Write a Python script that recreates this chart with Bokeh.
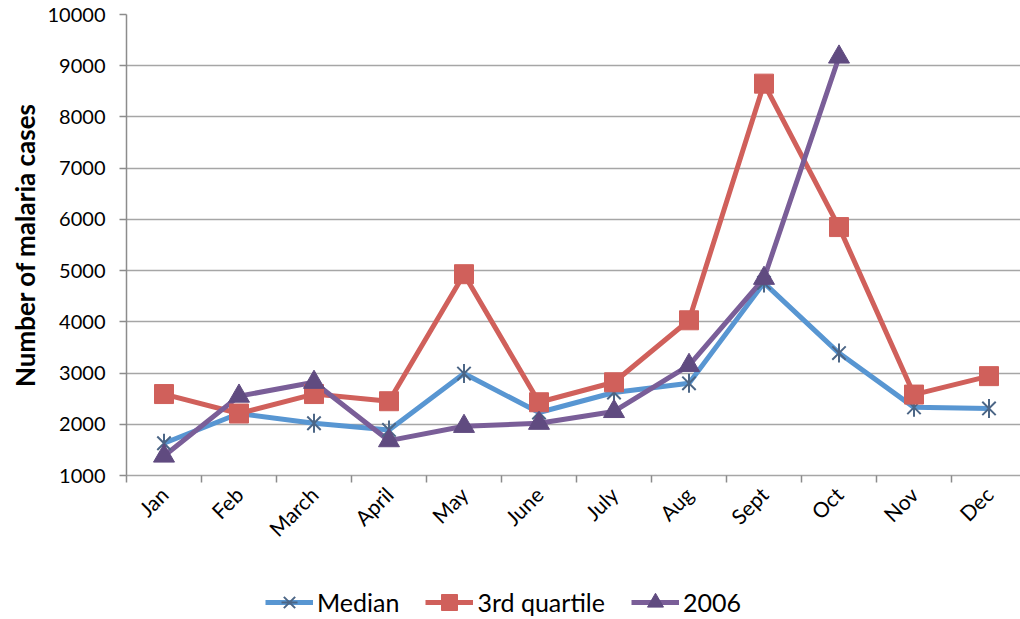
import math
from bokeh.plotting import figure
from bokeh.layouts import column
from bokeh.models import (Range1d, FixedTicker, Legend, LegendItem, ColumnDataSource)
from bokeh.embed import file_html
from bokeh.resources import INLINE

months = ["Jan", "Feb", "March", "April", "May", "June", "July", "Aug", "Sept", "Oct", "Nov", "Dec"]
median = [1630, 2210, 2020, 1890, 2990, 2230, 2620, 2800, 4760, 3390, 2330, 2310]
third_quartile = [2590, 2210, 2590, 2450, 4930, 2430, 2820, 4030, 8650, 5850, 2580, 2940]
y2006 = [1380, 2550, 2820, 1680, 1960, 2020, 2250, 3150, 4850, 9170]
y_ticks = [1000, 2000, 3000, 4000, 5000, 6000, 7000, 8000, 9000, 10000]

BLUE = "#5896d2"
BLUE_MK = "#4c6686"
RED = "#d0605b"
PURPLE = "#7a5e98"
PURPLE_MK = "#604b80"
FONT = "Lato"

idx = list(range(len(months)))
src_med = ColumnDataSource(dict(x=idx, y=median))
src_q3 = ColumnDataSource(dict(x=idx, y=third_quartile))
src_06 = ColumnDataSource(dict(x=idx[:len(y2006)], y=y2006))


def add_series(fig, visible=True):
    l_med = fig.line("x", "y", source=src_med, color=BLUE, line_width=5, visible=visible)
    l_q3 = fig.line("x", "y", source=src_q3, color=RED, line_width=5, visible=visible)
    l_06 = fig.line("x", "y", source=src_06, color=PURPLE, line_width=5, visible=visible)
    m_med1 = fig.scatter("x", "y", source=src_med, marker="x", size=19, line_color=BLUE_MK,
                         line_width=2, visible=visible)
    m_med2 = fig.scatter("x", "y", source=src_med, marker="dash", angle=math.pi / 2, size=19,
                         line_color=BLUE_MK, line_width=2, visible=visible)
    m_q3 = fig.scatter("x", "y", source=src_q3, marker="square", size=19, fill_color=RED,
                       line_color=RED, visible=visible)
    m_06 = fig.scatter("x", "y", source=src_06, marker="triangle", size=21, fill_color=PURPLE_MK,
                       line_color=PURPLE_MK, visible=visible)
    return [[l_med, m_med1, m_med2], [l_q3, m_q3], [l_06, m_06]]


p = figure(width=1020, height=560, output_backend="svg", toolbar_location=None,
           x_range=Range1d(-0.5, 11.42), y_range=Range1d(1000, 10000),
           min_border_left=126, min_border_right=0, min_border_top=14, min_border_bottom=85)
p.outline_line_color = None
p.background_fill_color = "white"
add_series(p)

# axes
p.yaxis.ticker = FixedTicker(ticks=y_ticks)
p.yaxis.axis_label = "Number of malaria cases"
p.yaxis.axis_label_text_font = FONT
p.yaxis.axis_label_text_font_style = "bold"
p.yaxis.axis_label_text_font_size = "26px"
p.yaxis.axis_label_text_color = "black"
p.yaxis.axis_label_standoff = 4
p.yaxis.major_label_text_font = FONT
p.yaxis.major_label_text_font_size = "20px"
p.yaxis.major_label_text_color = "black"
p.yaxis.major_label_standoff = 14
p.yaxis.major_tick_out = 7
p.yaxis.major_tick_in = 0
p.yaxis.minor_tick_out = 0
p.yaxis.minor_tick_in = 0
p.yaxis.axis_line_color = "#8c8c8c"
p.yaxis.axis_line_width = 1.5
p.yaxis.major_tick_line_color = "#8c8c8c"
p.yaxis.major_tick_line_width = 1.5

p.xaxis.ticker = FixedTicker(ticks=idx, minor_ticks=[i - 0.5 for i in range(len(months) + 1)])
p.xaxis.major_label_overrides = {i: m for i, m in enumerate(months)}
p.xaxis.major_label_orientation = math.pi / 4
p.xaxis.major_label_text_font = FONT
p.xaxis.major_label_text_font_size = "21px"
p.xaxis.major_label_text_color = "black"
p.xaxis.major_label_standoff = 8
p.xaxis.major_tick_out = 0
p.xaxis.major_tick_in = 0
p.xaxis.minor_tick_out = 7
p.xaxis.minor_tick_in = 0
p.xaxis.minor_tick_line_color = "#8c8c8c"
p.xaxis.minor_tick_line_width = 1.5
p.xaxis.axis_line_color = "#a6a6a6"
p.xaxis.axis_line_width = 1.5

p.xgrid.grid_line_color = None
p.ygrid.grid_line_color = "#a6a6a6"
p.ygrid.grid_line_width = 1.5

# legend strip below the chart (renderers hidden, used only for legend glyphs)
q = figure(width=1020, height=59, output_backend="svg", toolbar_location=None,
           x_axis_type=None, y_axis_type=None, x_range=Range1d(-0.5, 11.42),
           y_range=Range1d(1000, 10000), min_border=0)
q.outline_line_color = None
q.background_fill_color = "white"
groups = add_series(q, visible=False)

legend = Legend(items=[
    LegendItem(label="Median", renderers=groups[0]),
    LegendItem(label="3rd quartile", renderers=groups[1]),
    LegendItem(label="2006", renderers=groups[2]),
], orientation="horizontal", location=(139, -3))
legend.label_text_font = FONT
legend.label_text_font_size = "25px"
legend.label_text_color = "black"
legend.glyph_width = 48
legend.glyph_height = 40
legend.spacing = 26
legend.padding = 0
legend.margin = 0
legend.label_standoff = 4
legend.border_line_color = None
legend.background_fill_alpha = 0
legend.inactive_fill_alpha = 0
q.add_layout(legend, "center")

layout = column(p, q, spacing=0)
open("out.html", "w").write(file_html(layout, INLINE))
